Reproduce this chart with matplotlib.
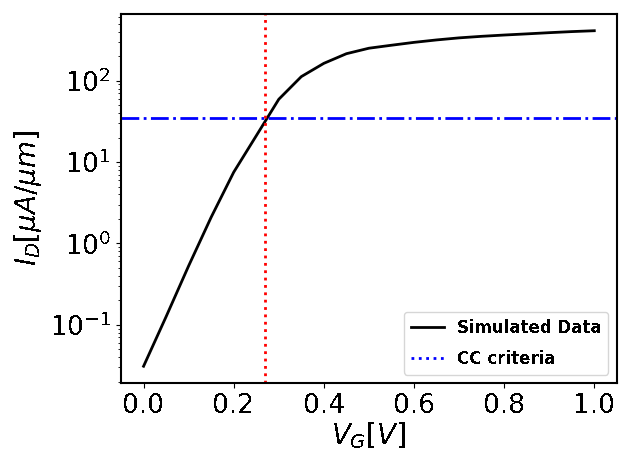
import matplotlib
matplotlib.use("Agg")
import matplotlib.pyplot as plt
from matplotlib.lines import Line2D

plt.rcParams['font.family'] = ['DejaVu Sans']
plt.rcParams['text.antialiased'] = False

vg = [0.00, 0.05, 0.10, 0.15, 0.20, 0.25, 0.30, 0.35, 0.40, 0.45, 0.50,
      0.55, 0.60, 0.65, 0.70, 0.75, 0.80, 0.85, 0.90, 0.95, 1.00]
id_ua = [0.031, 0.126, 0.53, 2.1, 7.5, 21, 59, 112, 163, 214, 250,
         272, 295, 316, 335, 350, 363, 375, 388, 400, 410]
cc_current = 34.8
vth = 0.27

fig = plt.figure(figsize=(6.32, 4.65), dpi=100)
ax = fig.add_axes([0.1915, 0.1763, 0.7845, 0.7937])

line, = ax.plot(vg, id_ua, color='black', lw=2)
ax.axhline(cc_current, color='blue', ls='-.', lw=2)
ax.axvline(vth, color='red', ls=':', lw=2)
ax.set_yscale('log')

ax.set_xlabel(r'$V_G[V]$', fontsize=20, labelpad=1)
ax.set_ylabel(r'$I_D[\mu A/\mu m]$', fontsize=20)
ax.tick_params(labelsize=19)
for s in ax.spines.values():
    s.set_linewidth(1.5)

handles = [Line2D([], [], color='black', lw=2), Line2D([], [], color='blue', ls=':', lw=2)]
ax.legend(handles, ['Simulated Data', 'CC criteria'], loc='lower right',
          prop={'size': 12, 'weight': 'bold'}, labelspacing=0.8)

fig.savefig('out.png', dpi=100)
